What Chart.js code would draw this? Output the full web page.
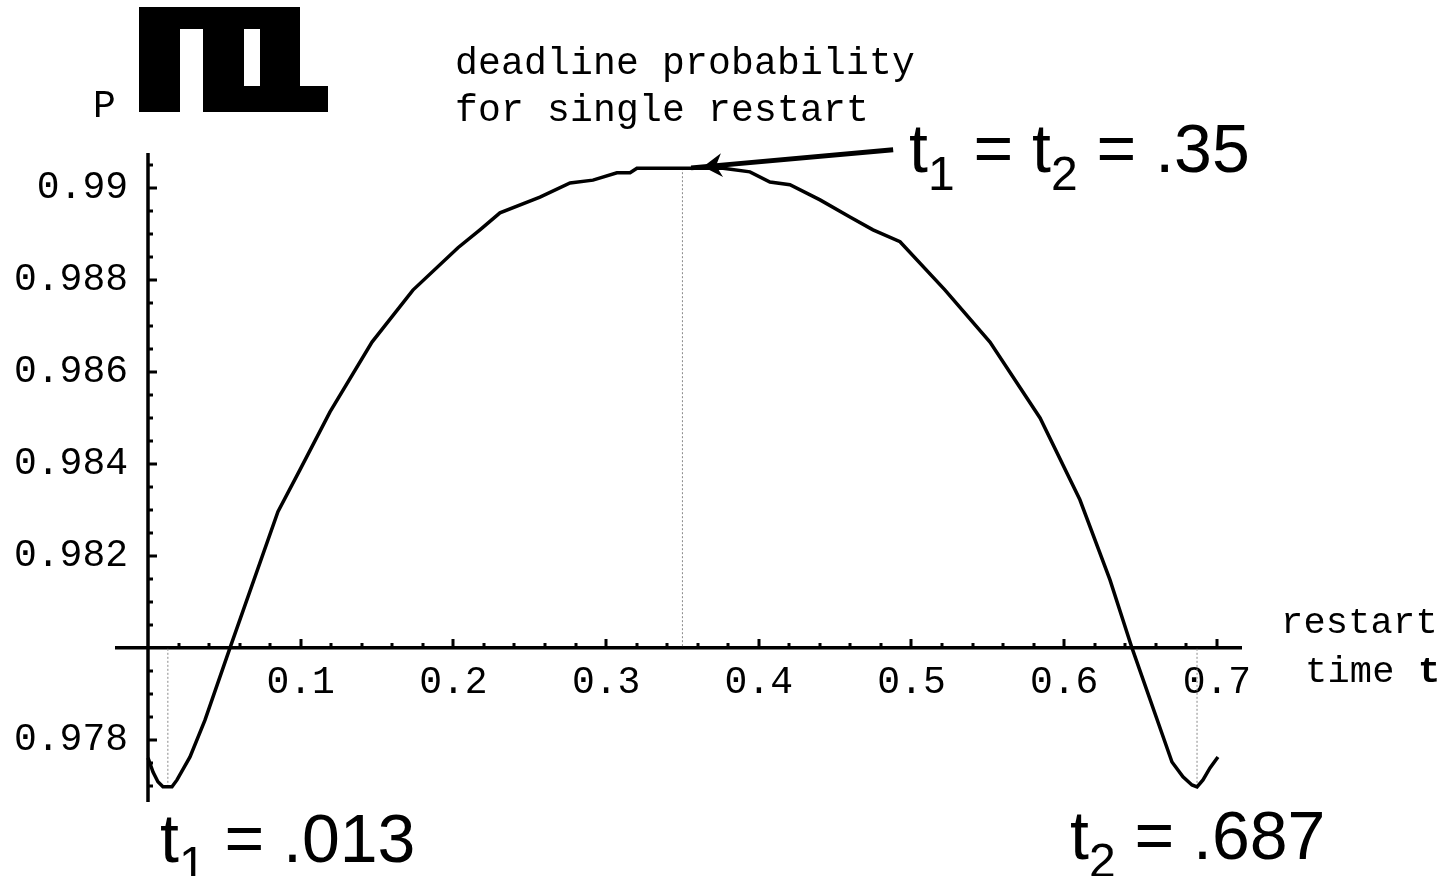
<!DOCTYPE html>
<html>
<head>
<meta charset="utf-8">
<title>deadline probability for single restart</title>
<script src="https://cdn.jsdelivr.net/npm/chart.js@4.4.1/dist/chart.umd.min.js"></script>
<style>
  html, body { margin: 0; padding: 0; background: #fff; }
  canvas { display: block; }
</style>
</head>
<body>
<canvas id="plot" width="1441" height="876"></canvas>
<script>
// restart time t and the deadline probability P(t) along the curve
const restartTimes = [
  0, 0.0033, 0.0065, 0.0098, 0.013, 0.0157, 0.019, 0.0275, 0.0373, 0.0537,
  0.0851, 0.0995, 0.1192, 0.1467, 0.1735, 0.203, 0.2174, 0.2305, 0.2567, 0.2764,
  0.2914, 0.3071, 0.3157, 0.3202, 0.35, 0.3766, 0.3942, 0.4073, 0.4204, 0.4401,
  0.4597, 0.4748, 0.4925, 0.522, 0.5514, 0.5842, 0.6103, 0.63, 0.6444, 0.6706,
  0.6778, 0.6837, 0.687, 0.6909, 0.6955, 0.7007
];
const deadlineProb = [
  0.97761, 0.9773, 0.97709, 0.97698, 0.97698, 0.97698, 0.97713, 0.97763, 0.97843, 0.98,
  0.98296, 0.98387, 0.98513, 0.98665, 0.98778, 0.9887, 0.98909, 0.98946, 0.9898, 0.99011,
  0.99017, 0.99033, 0.99033, 0.99043, 0.99043, 0.99043, 0.99035, 0.99013, 0.99007, 0.98974,
  0.98937, 0.98909, 0.98883, 0.98778, 0.98665, 0.985, 0.98322, 0.98148, 0.98, 0.97752,
  0.9772, 0.97702, 0.97698, 0.97713, 0.97739, 0.97763
];

// tick labels
const xTickValues = [0.1, 0.2, 0.3, 0.4, 0.5, 0.6, 0.7];
const xTickLabels = ["0.1", "0.2", "0.3", "0.4", "0.5", "0.6", "0.7"];
const yTickValues = [0.978, 0.982, 0.984, 0.986, 0.988, 0.99];
const yTickLabels = ["0.978", "0.982", "0.984", "0.986", "0.988", "0.99"];

// optimal restart times, with dotted drop lines to the axis
const markTimes = [0.013, 0.35, 0.687];
const markProb = [0.97698, 0.99043, 0.97698];

// the x axis crosses P at this level, the P axis sits at t = 0
const AXIS_P = 0.98;
const AXIS_T = 0;
// y labels are anchored a little left of the P axis
const Y_LABEL_T = -0.0131;

const MONO = '"Liberation Mono", "Courier New", monospace';
const SANS = '"Liberation Sans", Arial, sans-serif';

const curve = restartTimes.map((t, i) => ({ x: t, y: deadlineProb[i] }));

const datasets = [
  {
    data: curve,
    showLine: true,
    borderColor: "#000",
    borderWidth: 3.5,
    pointRadius: 0,
    tension: 0,
    order: 0
  }
];
markTimes.forEach((t, i) => {
  datasets.push({
    data: [{ x: t, y: markProb[i] }, { x: t, y: AXIS_P }],
    showLine: true,
    borderColor: "#8a8a8a",
    borderWidth: 1,
    borderDash: [2, 2],
    pointRadius: 0,
    order: 1
  });
});

// P axis line plus minor and major tick marks, pointing into the plot
const axisMarks = {
  id: "axisMarks",
  afterDraw(chart) {
    const { ctx, chartArea, scales: { x, y } } = chart;
    const x0 = Math.round(x.getPixelForValue(AXIS_T));
    const y0 = y.getPixelForValue(AXIS_P);
    ctx.save();
    ctx.strokeStyle = "#000";
    ctx.lineWidth = 3.5;
    ctx.beginPath();
    ctx.moveTo(x0, chartArea.top);
    ctx.lineTo(x0, chartArea.bottom);
    ctx.stroke();
    ctx.lineWidth = 3;
    ctx.beginPath();
    for (let k = 1; k * 0.02 <= x.max; k++) {
      const px = Math.round(x.getPixelForValue(k * 0.02));
      const len = k % 5 === 0 ? 9 : 5;
      ctx.moveTo(px, y0);
      ctx.lineTo(px, y0 - len);
    }
    const kMin = Math.ceil(y.min / 0.0005 - 1e-6);
    const kMax = Math.floor(y.max / 0.0005 + 1e-6);
    for (let k = kMin; k <= kMax; k++) {
      const v = k * 0.0005;
      if (Math.abs(v - AXIS_P) < 1e-7) continue;
      const py = Math.round(y.getPixelForValue(v));
      const len = k % 4 === 0 ? 9 : 5;
      ctx.moveTo(x0, py);
      ctx.lineTo(x0 + len, py);
    }
    ctx.stroke();
    ctx.restore();
  }
};

function drawSubText(ctx, x, y, parts, size) {
  let cx = x;
  parts.forEach((p, i) => {
    const sub = i % 2 === 1;
    ctx.font = (sub ? Math.round(size * 0.7) : size) + "px " + SANS;
    ctx.fillText(p, cx, sub ? y + Math.round(size * 0.26) : y);
    cx += ctx.measureText(p).width;
  });
}

// labels, title and the arrow to the maximum
const annotations = {
  id: "annotations",
  afterDraw(chart) {
    const { ctx, scales: { x, y } } = chart;
    ctx.save();
    ctx.fillStyle = "#000";
    ctx.textBaseline = "alphabetic";
    ctx.textAlign = "left";

    ctx.font = "38px " + MONO;
    ctx.letterSpacing = "0.2px";
    ctx.fillText("P", 93, 117);
    ctx.fillText("deadline probability", 455, 74);
    ctx.fillText("for single restart", 455, 121);
    ctx.font = "37px " + MONO;
    ctx.fillText("restart", 1281, 633);
    ctx.fillText("time", 1305, 682);
    ctx.font = "bold 37px " + MONO;
    ctx.fillText("t", 1418, 682);
    ctx.letterSpacing = "0px";

    // the solid block over the y label
    ctx.fillRect(139, 7, 161, 105);
    ctx.fillRect(300, 86, 28, 26);
    ctx.fillStyle = "#fff";
    ctx.fillRect(180, 29, 23, 83);
    ctx.fillRect(244, 29, 16, 57);
    ctx.fillStyle = "#000";

    drawSubText(ctx, 909, 172, ["t", "1", " = t", "2", " = .35"], 68);
    drawSubText(ctx, 160, 862, ["t", "1", " = .013"], 68);
    drawSubText(ctx, 1070, 859, ["t", "2", " = .687"], 68);

    // arrow pointing at the maximum
    const ax1 = x.getPixelForValue(0.488), ay1 = y.getPixelForValue(0.99083);
    const ax2 = x.getPixelForValue(0.3635), ay2 = y.getPixelForValue(0.99046);
    const ang = Math.atan2(ay2 - ay1, ax2 - ax1);
    ctx.strokeStyle = "#000";
    ctx.lineWidth = 5;
    ctx.beginPath();
    ctx.moveTo(ax1, ay1);
    ctx.lineTo(ax2 + 12 * Math.cos(ang), ay2 + 12 * Math.sin(ang));
    ctx.stroke();
    ctx.beginPath();
    ctx.moveTo(ax2, ay2);
    ctx.lineTo(ax2 - 19 * Math.cos(ang) - 12 * Math.sin(ang), ay2 - 19 * Math.sin(ang) + 12 * Math.cos(ang));
    ctx.lineTo(ax2 - 13 * Math.cos(ang), ay2 - 13 * Math.sin(ang));
    ctx.lineTo(ax2 - 19 * Math.cos(ang) + 12 * Math.sin(ang), ay2 - 19 * Math.sin(ang) - 12 * Math.cos(ang));
    ctx.closePath();
    ctx.fill();
    ctx.restore();
  }
};

new Chart(document.getElementById("plot"), {
  type: "scatter",
  data: { datasets },
  options: {
    responsive: false,
    animation: false,
    devicePixelRatio: 1,
    layout: { padding: { left: 117, right: 200, top: 153, bottom: 74 } },
    plugins: { legend: { display: false }, tooltip: { enabled: false } },
    scales: {
      x: {
        type: "linear",
        min: -0.0203,
        max: 0.7158,
        position: { y: AXIS_P },
        afterFit(scale) { scale.height = 0; },
        afterBuildTicks(scale) { scale.ticks = xTickValues.map(v => ({ value: v })); },
        border: { display: true, color: "#000", width: 3.5 },
        grid: { display: true, drawOnChartArea: false, drawTicks: false },
        ticks: {
          autoSkip: false,
          maxRotation: 0,
          padding: 12,
          color: "#000",
          font: { family: MONO, size: 38 },
          callback: (v, i) => xTickLabels[i]
        }
      },
      y: {
        type: "linear",
        min: 0.97665,
        max: 0.99076,
        position: { x: Y_LABEL_T },
        afterFit(scale) { scale.width = 0; },
        afterBuildTicks(scale) { scale.ticks = yTickValues.map(v => ({ value: v })); },
        border: { display: false },
        grid: { display: false, drawTicks: false },
        ticks: {
          autoSkip: false,
          padding: 0,
          color: "#000",
          font: { family: MONO, size: 38 },
          callback: (v, i) => yTickLabels[i]
        }
      }
    }
  },
  plugins: [axisMarks, annotations]
});
</script>
</body>
</html>
